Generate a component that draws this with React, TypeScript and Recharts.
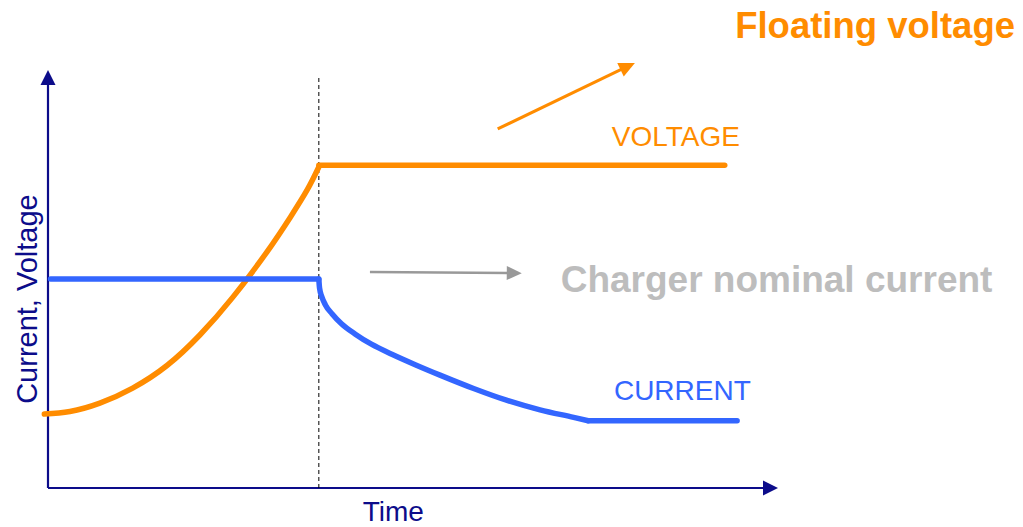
import React from 'react';
import { LineChart, Line, XAxis, YAxis, ReferenceLine, ReferenceDot } from 'recharts';

// ---- colours ----
const ORANGE = '#FF8C00';
const BLUE = '#3366FF';
const NAVY = '#0C0C8A';
const GREY_TEXT = '#BDBDBD';
const GREY_ARROW = '#999999';
const FONT = '"Liberation Sans", Arial, sans-serif';

// ---- data (time in arbitrary units 0..100, level in arbitrary units 0..100) ----
const voltageRiseTime = [-0.5, 3.0, 7.1, 11.6, 16.3, 20.8, 25.3, 30.0, 33.2, 35.5, 37.1];
const voltageRiseLevel = [17.7, 18.3, 20.3, 23.9, 29.3, 36.6, 45.6, 56.5, 64.8, 71.3, 76.8];
const voltageFloatTime = [37.1, 92.7];
const voltageFloatLevel = [77.2, 77.2];

const currentConstTime = [0.35, 37.1];
const currentConstLevel = [50, 50];
const currentTaperTime = [37.1, 37.2, 37.5, 38.0, 38.9, 40.2, 42.1, 44.3, 47.1, 50.3, 53.7, 58.3, 62.8, 67.4, 72.0, 74.0];
const currentTaperLevel = [50, 47.8, 45.8, 43.8, 41.7, 39.3, 36.8, 34.4, 32.0, 29.5, 27.0, 23.8, 21.0, 18.7, 16.9, 16.1];
const currentFloorTime = [74.0, 94.4];
const currentFloorLevel = [16.1, 16.1];

// transition time (end of constant-current phase)
const switchTime = 37.1;
const switchTop = 98.8;

// annotation arrows
const floatArrowFrom = { t: 61.6, v: 85.9 };
const floatArrowTo = { t: 80.4, v: 101.7 };
const nominalArrowFrom = { t: 44.1, v: 51.7 };
const nominalArrowTo = { t: 64.9, v: 51.4 };

// text labels
const labels = [
  { text: 'Floating voltage', t: 113.3, v: 107.7, color: ORANGE, size: 36.5, weight: 'bold' },
  { text: 'VOLTAGE', t: 86.0, v: 81.8, color: ORANGE, size: 28, weight: 'normal' },
  { text: 'Charger nominal current', t: 99.8, v: 46.9, color: GREY_TEXT, size: 37, weight: 'bold' },
  { text: 'CURRENT', t: 86.9, v: 21.1, color: BLUE, size: 28, weight: 'normal' },
  { text: 'Time', t: 47.3, v: -7.9, color: NAVY, size: 28, weight: 'normal' },
];
const yTitle = { text: 'Current, Voltage', t: -1.5, v: 45.2 };

const zip = (ts: number[], vs: number[]) => ts.map((t, i) => ({ t, v: vs[i] }));

const voltageRise = zip(voltageRiseTime, voltageRiseLevel);
const voltageFloat = zip(voltageFloatTime, voltageFloatLevel);
const currentConst = zip(currentConstTime, currentConstLevel);
const currentTaper = zip(currentTaperTime, currentTaperLevel);
const currentFloor = zip(currentFloorTime, currentFloorLevel);

const arrowShape = (color: string, width: number, headLen: number, headW: number) => (props: any) => {
  const { x1, y1, x2, y2 } = props;
  const ang = Math.atan2(y2 - y1, x2 - x1);
  const c = Math.cos(ang);
  const s = Math.sin(ang);
  const bx = x2 - headLen * c;
  const by = y2 - headLen * s;
  const px = -s * headW / 2;
  const py = c * headW / 2;
  const lx = x2 - (headLen - 2) * c;
  const ly = y2 - (headLen - 2) * s;
  return (
    <g>
      <line x1={x1} y1={y1} x2={lx} y2={ly} stroke={color} strokeWidth={width} />
      <polygon points={`${x2},${y2} ${bx + px},${by + py} ${bx - px},${by - py}`} fill={color} />
    </g>
  );
};

const textShape = (l: any) => (props: any) => (
  <text
    x={props.cx}
    y={props.cy}
    textAnchor="middle"
    fill={l.color}
    fontSize={l.size}
    fontWeight={l.weight}
    fontFamily={FONT}
  >
    {l.text}
  </text>
);

const rotatedTitleShape = (props: any) => (
  <text
    x={props.cx}
    y={props.cy}
    transform={`rotate(-90, ${props.cx}, ${props.cy})`}
    textAnchor="middle"
    fill={NAVY}
    fontSize={29}
    fontFamily={FONT}
  >
    {yTitle.text}
  </text>
);

const lineCommon = {
  dataKey: 'v',
  strokeWidth: 5.5,
  strokeLinecap: 'round' as const,
  strokeLinejoin: 'round' as const,
  dot: false,
  activeDot: false,
  isAnimationActive: false,
};

export default function App() {
  return (
    <div style={{ position: 'absolute', left: 0, top: 0, width: 1023, height: 527, background: '#fff' }}>
      <LineChart width={1023} height={527} margin={{ top: 70, right: 245, bottom: 39, left: 40.7 }}>
        <XAxis type="number" dataKey="t" domain={[-1, 100]} allowDataOverflow hide />
        <YAxis type="number" dataKey="v" domain={[0, 100]} allowDataOverflow hide />

        {/* axes with arrowheads */}
        <ReferenceLine
          segment={[{ x: 0, y: 0 }, { x: 0, y: 100 }]}
          ifOverflow="visible"
          shape={arrowShape(NAVY, 2.2, 15, 15)}
        />
        <ReferenceLine
          segment={[{ x: 0, y: 0 }, { x: 100, y: 0 }]}
          ifOverflow="visible"
          shape={arrowShape(NAVY, 2.2, 15, 15)}
        />

        {/* switch-over dashed line */}
        <ReferenceLine
          segment={[{ x: switchTime, y: 0 }, { x: switchTime, y: switchTop }]}
          ifOverflow="visible"
          stroke="#000"
          strokeWidth={1}
          strokeDasharray="4 3"
        />

        {/* annotation arrows */}
        <ReferenceLine
          segment={[{ x: floatArrowFrom.t, y: floatArrowFrom.v }, { x: floatArrowTo.t, y: floatArrowTo.v }]}
          ifOverflow="visible"
          shape={arrowShape(ORANGE, 3, 16, 15)}
        />
        <ReferenceLine
          segment={[{ x: nominalArrowFrom.t, y: nominalArrowFrom.v }, { x: nominalArrowTo.t, y: nominalArrowTo.v }]}
          ifOverflow="visible"
          shape={arrowShape(GREY_ARROW, 2.5, 15, 14)}
        />

        {/* series */}
        <Line {...lineCommon} data={voltageRise} type="natural" stroke={ORANGE} />
        <Line {...lineCommon} data={voltageFloat} type="linear" stroke={ORANGE} />
        <Line {...lineCommon} data={currentConst} type="linear" stroke={BLUE} />
        <Line {...lineCommon} data={currentTaper} type="monotone" stroke={BLUE} />
        <Line {...lineCommon} data={currentFloor} type="linear" stroke={BLUE} />

        {/* text labels */}
        {labels.map((l) => (
          <ReferenceDot key={l.text} x={l.t} y={l.v} r={0} ifOverflow="visible" shape={textShape(l)} />
        ))}
        <ReferenceDot x={yTitle.t} y={yTitle.v} r={0} ifOverflow="visible" shape={rotatedTitleShape} />
      </LineChart>
    </div>
  );
}
